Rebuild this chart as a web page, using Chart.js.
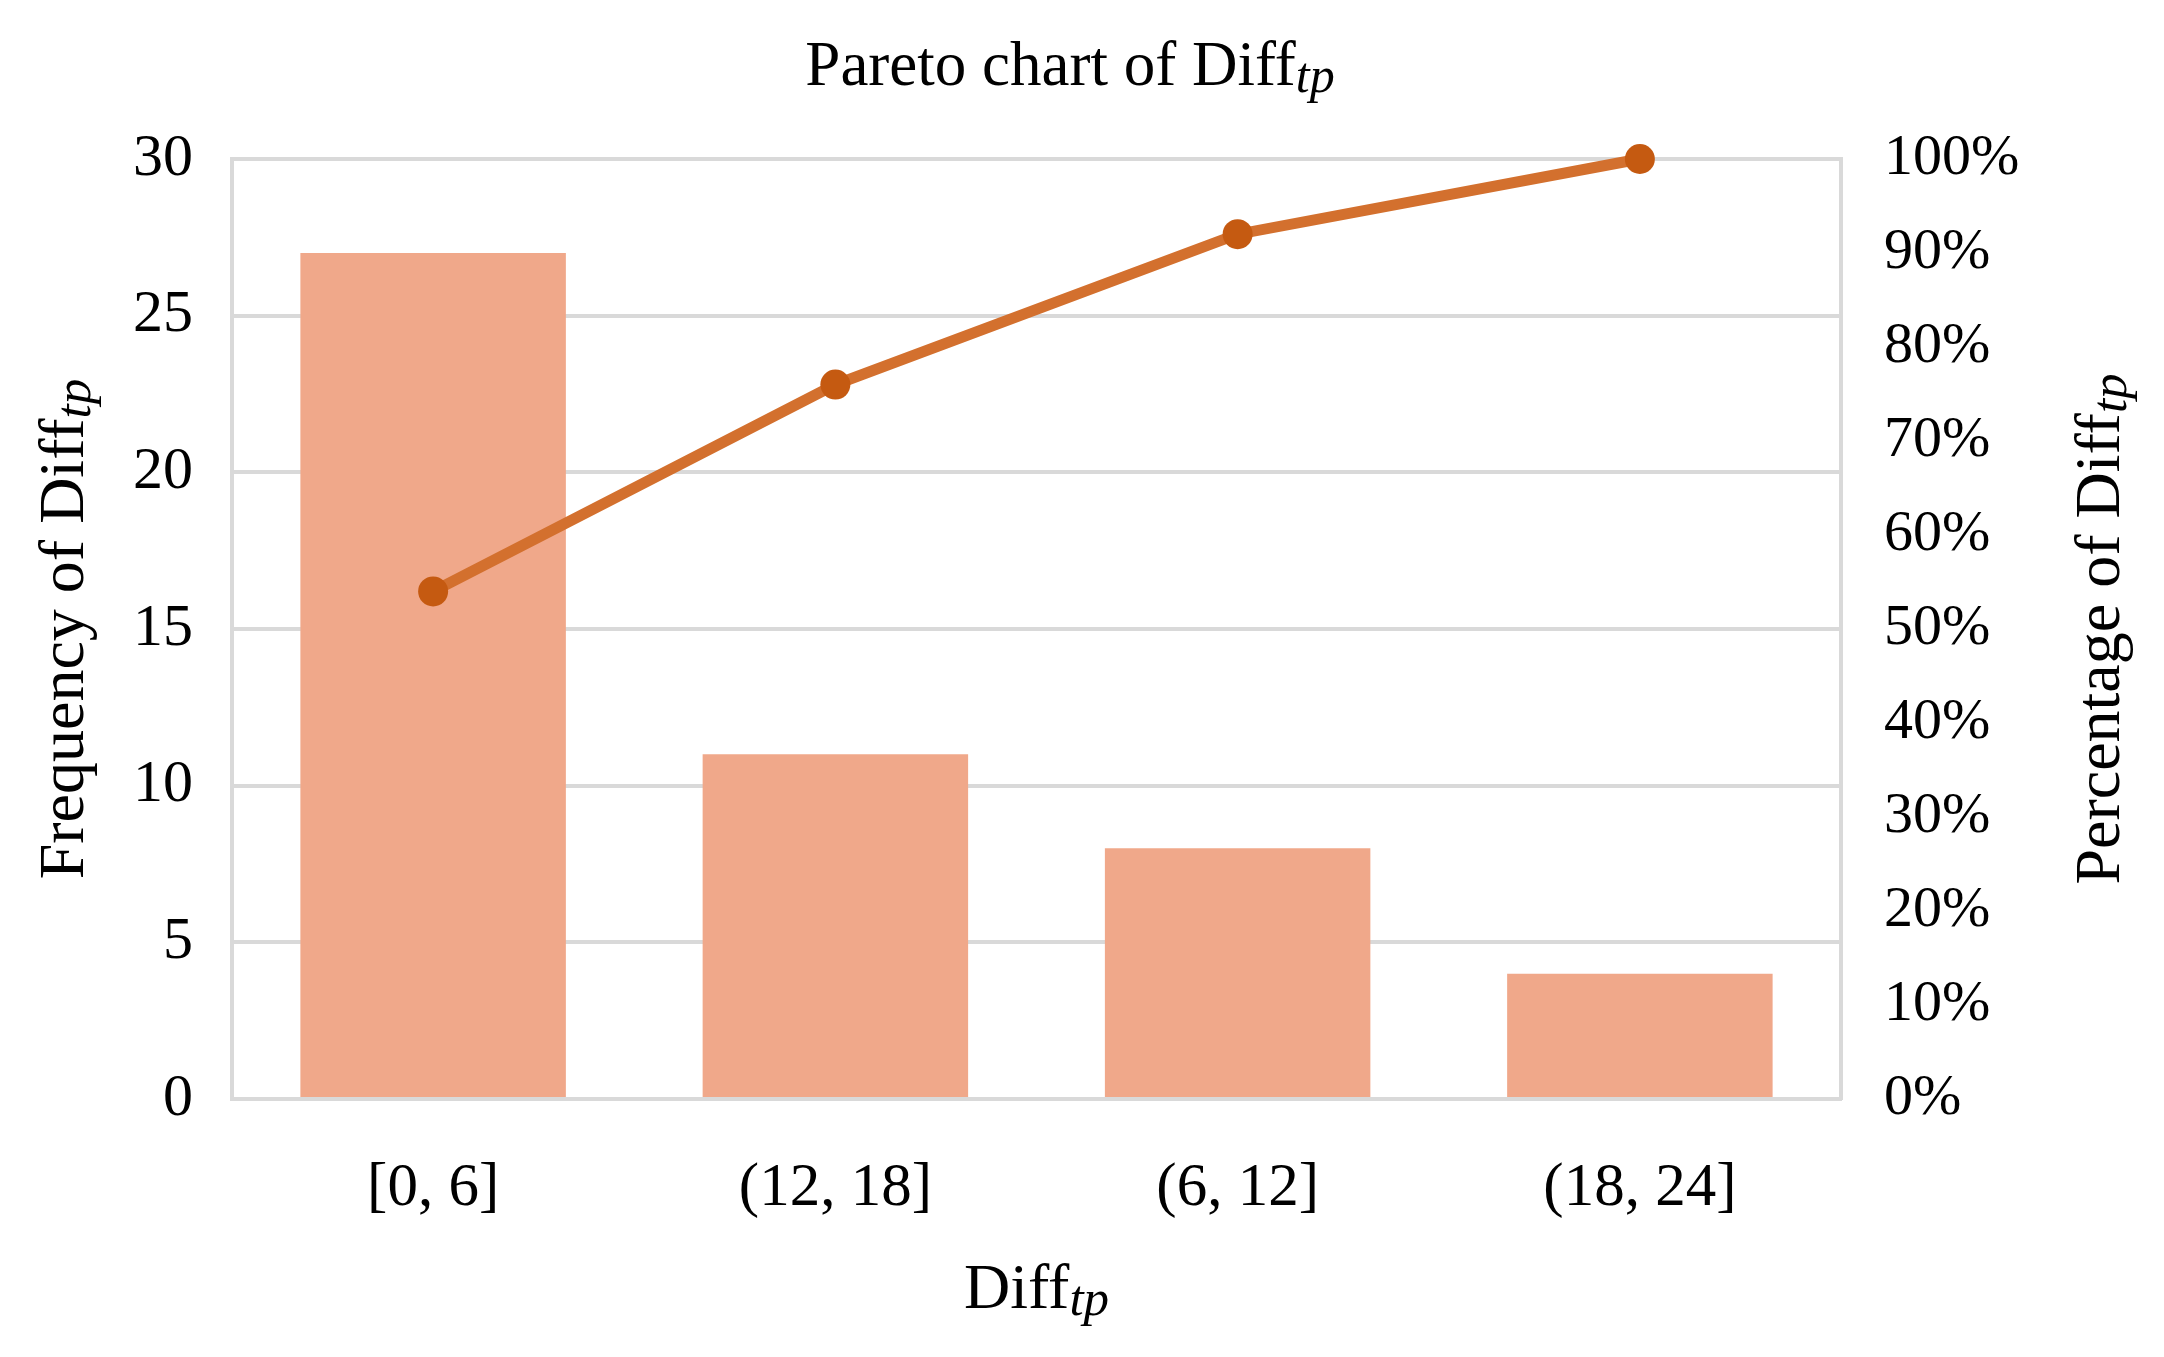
<!DOCTYPE html>
<html>
<head>
<meta charset="utf-8">
<script src="https://cdn.jsdelivr.net/npm/chart.js@4.4.0/dist/chart.umd.min.js"></script>
<style>
  html, body { margin: 0; padding: 0; background: #ffffff; }
  #paretoChart { display: block; }
</style>
</head>
<body>
<canvas id="paretoChart" width="2164" height="1357"></canvas>
<script>
// data
var categories = ["[0, 6]", "(12, 18]", "(6, 12]", "(18, 24]"];
var frequency = [27, 11, 8, 4];
var cumulativePercent = [54, 76, 92, 100];
var freqTicks = [0, 5, 10, 15, 20, 25, 30];
var percentTicks = [0, 10, 20, 30, 40, 50, 60, 70, 80, 90, 100];

var chartTitle = "Pareto chart of Diff";
var leftTitle = "Frequency of Diff";
var rightTitle = "Percentage of Diff";
var xTitle = "Diff";
var subText = "tp";

var serif = "'Liberation Serif', 'Times New Roman', serif";
var gridColor = "#d9d9d9";

Chart.defaults.font.family = serif;
Chart.defaults.color = "#000000";

// draws "Diff" + italic subscript "tp", centred on x, baseline at y
function drawSubText(ctx, main, x, y, size) {
  var subSize = Math.round(size * 0.8);
  ctx.font = size + "px " + serif;
  var w1 = ctx.measureText(main).width;
  ctx.font = "italic " + subSize + "px " + serif;
  var w2 = ctx.measureText(subText).width;
  var start = x - (w1 + w2) / 2;
  ctx.textAlign = "left";
  ctx.textBaseline = "alphabetic";
  ctx.fillStyle = "#000000";
  ctx.font = size + "px " + serif;
  ctx.fillText(main, start, y);
  ctx.font = "italic " + subSize + "px " + serif;
  ctx.fillText(subText, start + w1, y + 7);
}

var titlePlugin = {
  id: "titlePlugin",
  afterDraw: function (chart) {
    var ctx = chart.ctx;
    var area = chart.chartArea;
    var midY = (area.top + area.bottom) / 2;
    ctx.save();
    drawSubText(ctx, chartTitle, 1070, 85, 63);
    drawSubText(ctx, xTitle, (area.left + area.right) / 2, 1308, 64);

    ctx.save();
    ctx.translate(83, midY);
    ctx.rotate(-Math.PI / 2);
    drawSubText(ctx, leftTitle, 0, 0, 64);
    ctx.restore();

    ctx.save();
    ctx.translate(2119, midY);
    ctx.rotate(-Math.PI / 2);
    drawSubText(ctx, rightTitle, 0, 0, 64);
    ctx.restore();
    ctx.restore();
  }
};

var ctx = document.getElementById("paretoChart").getContext("2d");
var chart = new Chart(ctx, {
  type: "bar",
  data: {
    labels: categories,
    datasets: [
      {
        type: "line",
        label: "Cumulative %",
        data: cumulativePercent,
        yAxisID: "y2",
        borderColor: "#d3702e",
        borderWidth: 11,
        pointRadius: 15,
        pointBackgroundColor: "#c55a11",
        pointBorderWidth: 0,
        tension: 0,
        clip: false,
        order: 0
      },
      {
        label: "Frequency",
        data: frequency,
        yAxisID: "y",
        backgroundColor: "#f0a88a",
        barPercentage: 0.66,
        categoryPercentage: 1,
        order: 1
      }
    ]
  },
  options: {
    responsive: false,
    devicePixelRatio: 1,
    animation: false,
    layout: {
      padding: { top: 159, left: 0, right: 0, bottom: 0 }
    },
    plugins: {
      legend: { display: false },
      tooltip: { enabled: false },
      title: { display: false }
    },
    scales: {
      x: {
        grid: { display: false },
        border: { display: true, color: gridColor, width: 4 },
        ticks: { font: { size: 61 }, padding: 45, maxRotation: 0 },
        afterFit: function (scale) { scale.height = 258; }
      },
      y: {
        position: "left",
        min: 0,
        max: 30,
        afterBuildTicks: function (scale) {
          scale.ticks = freqTicks.map(function (v) { return { value: v }; });
        },
        grid: { color: gridColor, lineWidth: 4, drawTicks: false },
        border: { display: true, color: gridColor, width: 4 },
        ticks: { font: { size: 60 }, padding: 39 },
        afterFit: function (scale) { scale.width = 232; }
      },
      y2: {
        position: "right",
        min: 0,
        max: 100,
        afterBuildTicks: function (scale) {
          scale.ticks = percentTicks.map(function (v) { return { value: v }; });
        },
        grid: { display: false, drawTicks: false },
        border: { display: true, color: gridColor, width: 4 },
        ticks: {
          font: { size: 58 },
          padding: 43,
          callback: function (value) { return value + "%"; }
        },
        afterFit: function (scale) { scale.width = 323; }
      }
    }
  },
  plugins: [titlePlugin]
});
</script>
</body>
</html>
